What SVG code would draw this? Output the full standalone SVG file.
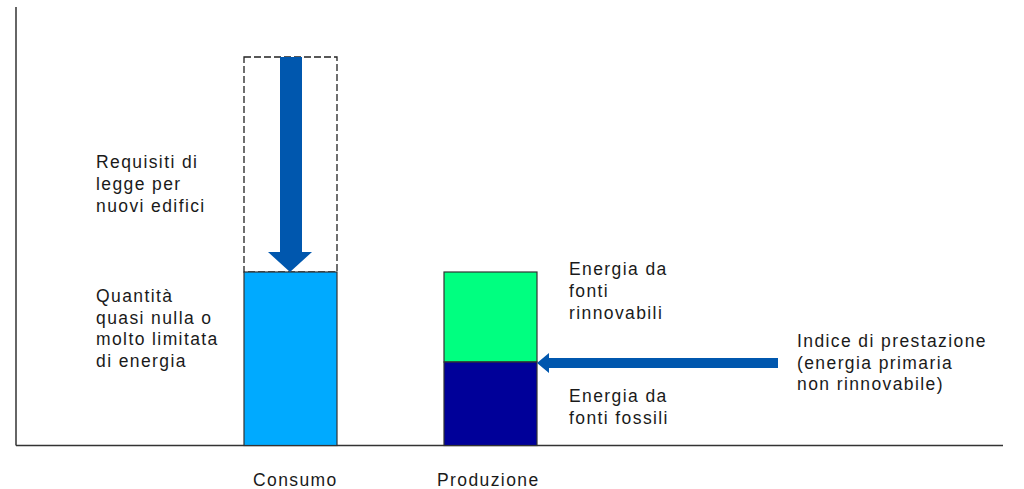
<svg xmlns="http://www.w3.org/2000/svg" width="1024" height="489" viewBox="0 0 1024 489">
<style>
text{font-family:"Liberation Sans",Arial,sans-serif;font-size:17.5px;letter-spacing:1.4px;fill:#1a1a1a}
.axis{stroke:#333;stroke-width:1.5;fill:none}
.bar{stroke:#333;stroke-width:1.2}
.arrow{fill:#0057AE}
</style>
<rect width="1024" height="489" fill="#fff"/>
<g id="axes">
<line class="axis" x1="16" y1="7" x2="16" y2="445.5"/>
<line class="axis" x1="16" y1="445.5" x2="1003" y2="445.5"/>
</g>
<g id="consumo">
<rect x="244" y="57" width="93" height="215" fill="none" stroke="#222" stroke-width="1.3" stroke-dasharray="7,3"/>
<rect class="bar" x="244" y="272" width="93" height="173.5" fill="#00AAFF"/>
<text x="253" y="486">Consumo</text>
</g>
<g id="produzione">
<rect class="bar" x="444" y="272" width="93" height="90" fill="#00FF80"/>
<rect class="bar" x="444" y="362" width="93" height="83.5" fill="#000099"/>
<text x="437" y="486">Produzione</text>
</g>
<g id="connectors">
<polygon class="arrow" points="280,57 302,57 302,252 312,252 290,272 268,252 280,252"/>
<polygon class="arrow" points="778,358 549,358 549,353 537,363 549,373 549,368 778,368"/>
</g>
<g id="label-requisiti">
<text x="96" y="168">Requisiti di</text>
<text x="96" y="190">legge per</text>
<text x="96" y="212">nuovi edifici</text>
</g>
<g id="label-quantita">
<text x="96" y="302">Quantità</text>
<text x="96" y="323.5">quasi nulla o</text>
<text x="96" y="345">molto limitata</text>
<text x="96" y="366.5">di energia</text>
</g>
<g id="label-rinnovabili">
<text x="569" y="275">Energia da</text>
<text x="569" y="297">fonti</text>
<text x="569" y="318.5">rinnovabili</text>
</g>
<g id="label-fossili">
<text x="569" y="402">Energia da</text>
<text x="569" y="424">fonti fossili</text>
</g>
<g id="label-indice">
<text x="797" y="347">Indice di prestazione</text>
<text x="797" y="368.5">(energia primaria</text>
<text x="797" y="390">non rinnovabile)</text>
</g>
</svg>
